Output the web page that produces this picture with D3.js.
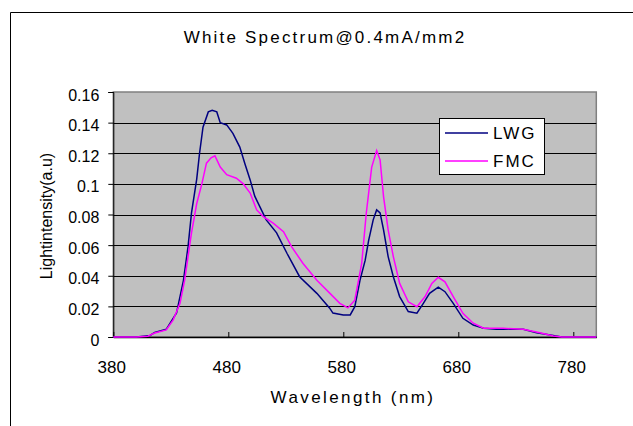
<!DOCTYPE html>
<html><head><meta charset="utf-8">
<script src="https://cdn.jsdelivr.net/npm/d3@7"></script>
<style>body{margin:0;background:#fff;} text{font-family:"Liberation Sans",Arial,sans-serif;fill:#000;}</style>
</head><body><svg id="c" width="633" height="426"></svg>
<script>
const title = "White Spectrum@0.4mA/mm2";
const xTicks = [380, 480, 580, 680, 780];
const yTicks = [0, 0.02, 0.04, 0.06, 0.08, 0.1, 0.12, 0.14, 0.16];
const seriesNames = ["LWG", "FMC"];
const lwgWl  = [380,400,412,416,426,435,441,445,448,452.5,455,458,462.6,466,470,473,478.6,484,490,494.5,499,503,507.5,513,522,531,542,557,568,571,580,586,590,594.5,599,602,606,609,612,615,619,623.5,629,636.5,644,649.6,655,662.6,668.4,675.6,684,693,702,713,736.5,748,760,770,800];
const lwgVal = [0,0,0.001,0.003,0.005,0.0157,0.037,0.059,0.081,0.103,0.12,0.137,0.147,0.148,0.147,0.14,0.1385,0.133,0.124,0.113,0.1026,0.092,0.085,0.0765,0.068,0.0547,0.0394,0.0285,0.019,0.0156,0.0144,0.0144,0.0198,0.037,0.05,0.063,0.0765,0.083,0.081,0.07,0.0525,0.0394,0.0264,0.0166,0.0155,0.022,0.0285,0.0325,0.0296,0.022,0.0122,0.0078,0.0057,0.005,0.005,0.0028,0.0013,0,0];
const fmcWl  = [380,400,410,416,426,432,438,442,445,448,452.5,457,461,465,468.4,473,478.6,487,493,499,504.7,510.4,519,528,535,545,557,568.4,577,584,590,596,600,604.7,609,612,615,619,623.5,629,636.5,644,651,657,662.6,668.4,675.6,684,693,702,719,736.5,751,762.6,770,800];
const fmcVal = [0,0,0.0005,0.0026,0.0046,0.011,0.022,0.037,0.0525,0.068,0.087,0.1,0.1135,0.117,0.1183,0.111,0.106,0.1037,0.1,0.094,0.083,0.0786,0.0743,0.0688,0.059,0.048,0.037,0.0285,0.022,0.019,0.024,0.048,0.081,0.111,0.1218,0.1157,0.0917,0.07,0.0525,0.035,0.023,0.0198,0.0263,0.035,0.039,0.036,0.0263,0.0155,0.009,0.0057,0.0057,0.005,0.0028,0.0006,0,0];
const colors = ["#000080", "#ff00ff"];

const svg = d3.select("#c");
const L = 113.3, R = 596.3, T = 92, B = 337;
const x = d3.scaleLinear().domain([380, 800]).range([L, R]);
const y = d3.scaleLinear().domain([0, 0.16]).range([B, T]);

// outer chart border (cropped)
svg.append("path").attr("d", "M10.5,426 L10.5,12.5 L633,12.5").attr("fill", "none").attr("stroke", "#000").attr("stroke-width", 1);

// title
svg.append("text").attr("x", 325).attr("y", 43).attr("text-anchor", "middle")
  .style("font-size", "17px").style("letter-spacing", "2.2px").text(title);

// plot area
svg.append("rect").attr("x", L).attr("y", T).attr("width", R - L).attr("height", B - T)
  .attr("fill", "#c0c0c0").attr("stroke", "#808080").attr("stroke-width", 1.5);

// gridlines
svg.append("g").selectAll("line").data(yTicks.filter(d => d > 0 && d < 0.16)).join("line")
  .attr("x1", L).attr("x2", R).attr("y1", d => Math.round(y(d)) + 0.5).attr("y2", d => Math.round(y(d)) + 0.5)
  .attr("stroke", "#000").attr("stroke-width", 1);

// y axis
const yAxis = d3.axisLeft(y).tickValues(yTicks).tickSize(5).tickPadding(9).tickFormat(d => String(+d.toFixed(2)));
const gy = svg.append("g").attr("transform", `translate(${L},0)`).call(yAxis);
gy.select(".domain").attr("stroke", "#000");
gy.selectAll("text").attr("dy", "0.5em").style("font-size", "16px").style("font-family", "Liberation Sans, Arial, sans-serif");

// x axis
const xAxis = d3.axisBottom(x).tickValues(xTicks).tickSize(-5).tickPadding(0).tickSizeOuter(0);
const gx = svg.append("g").attr("transform", `translate(0,${B})`).call(xAxis);
gx.select(".domain").attr("stroke", "#000").attr("stroke-width", 1.5);
gx.selectAll("text").attr("y", 36).attr("dy", "0").attr("dx", "-2px").style("font-size", "17px").style("font-family", "Liberation Sans, Arial, sans-serif");

// axis titles
svg.append("text").attr("x", 353).attr("y", 403).attr("text-anchor", "middle")
  .style("font-size", "17px").style("letter-spacing", "2.4px").text("Wavelength (nm)");
svg.append("text").attr("transform", "translate(52,216) rotate(-90)").attr("text-anchor", "middle")
  .style("font-size", "16px").text("Lightintensity(a.u)");

// lines
const line = d3.line().x(d => x(d[0])).y(d => y(d[1]));
const data = [d3.zip(lwgWl, lwgVal), d3.zip(fmcWl, fmcVal)];
svg.append("g").selectAll("path").data(data).join("path")
  .attr("d", line).attr("fill", "none").attr("stroke", (d, i) => colors[i]).attr("stroke-width", 1.5);

// legend
const lg = svg.append("g");
lg.append("rect").attr("x", 439.5).attr("y", 118.5).attr("width", 105).attr("height", 56)
  .attr("fill", "#fff").attr("stroke", "#000");
seriesNames.forEach((n, i) => {
  const yy = 133 + i * 28;
  lg.append("line").attr("x1", 445).attr("x2", 488).attr("y1", yy).attr("y2", yy)
    .attr("stroke", colors[i]).attr("stroke-width", 1.5);
  lg.append("text").attr("x", 493).attr("y", yy).attr("dy", "0.36em")
    .style("font-size", "17px").style("letter-spacing", "2px").text(n);
});
</script></body></html>
